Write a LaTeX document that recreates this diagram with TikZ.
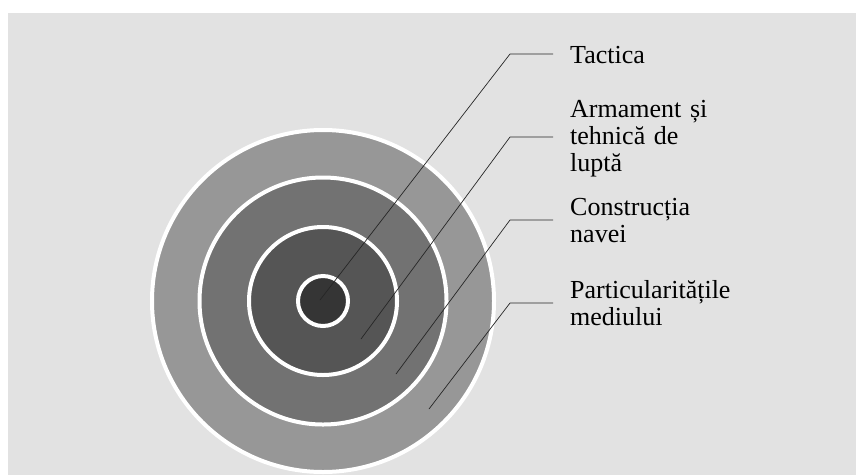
\documentclass[tikz,border=0pt]{standalone}
\usepackage{fontspec}
\setmainfont{Liberation Serif}
\definecolor{bggray}{HTML}{E2E2E2}
\definecolor{ringA}{HTML}{979797}
\definecolor{ringB}{HTML}{727272}
\definecolor{ringC}{HTML}{555555}
\definecolor{ringD}{HTML}{353535}
\begin{document}
\begin{tikzpicture}[x=1pt,y=-1pt,
  ring/.style={circle,draw=white,line width=4pt,inner sep=0pt},
  lead/.style={draw=black!85,line width=0.7pt},
  lbl/.style={anchor=base west,inner sep=0pt,text width=220pt,align=left,
    font=\fontsize{26}{27.3}\selectfont}]
\useasboundingbox (0,0) rectangle (856,475);
\fill[white] (0,0) rectangle (856,475);
\fill[bggray] (8,13) rectangle (856,475);
\coordinate (c) at (323,301);
\node[ring,fill=ringA,minimum size=342pt] (r1) at (c) {};
\node[ring,fill=ringB,minimum size=247pt] (r2) at (c) {};
\node[ring,fill=ringC,minimum size=148pt] (r3) at (c) {};
\node[ring,fill=ringD,minimum size=50pt] (r4) at (c) {};
% leader points
\coordinate (p1) at (320,300);
\coordinate (k1) at (510,54);
\coordinate (e1) at (553,54);
\coordinate (p2) at (361,339);
\coordinate (k2) at (510,137);
\coordinate (e2) at (553,137);
\coordinate (p3) at (396,374);
\coordinate (k3) at (510,220);
\coordinate (e3) at (553,220);
\coordinate (p4) at (429,409);
\coordinate (k4) at (510,303);
\coordinate (e4) at (553,303);
\draw[lead] (p1) -- (k1) -- (e1);
\draw[lead] (p2) -- (k2) -- (e2);
\draw[lead] (p3) -- (k3) -- (e3);
\draw[lead] (p4) -- (k4) -- (e4);
% labels
\node[lbl] (t1) at (570,63) {Tactica};
\node[lbl] (t2) at (570,117) {Armament și\\tehnică de\\luptă};
\node[lbl] (t3) at (570,215) {Construcția\\navei};
\node[lbl] (t4) at (570,298) {Particularitățile\\mediului};
\end{tikzpicture}
\end{document}
